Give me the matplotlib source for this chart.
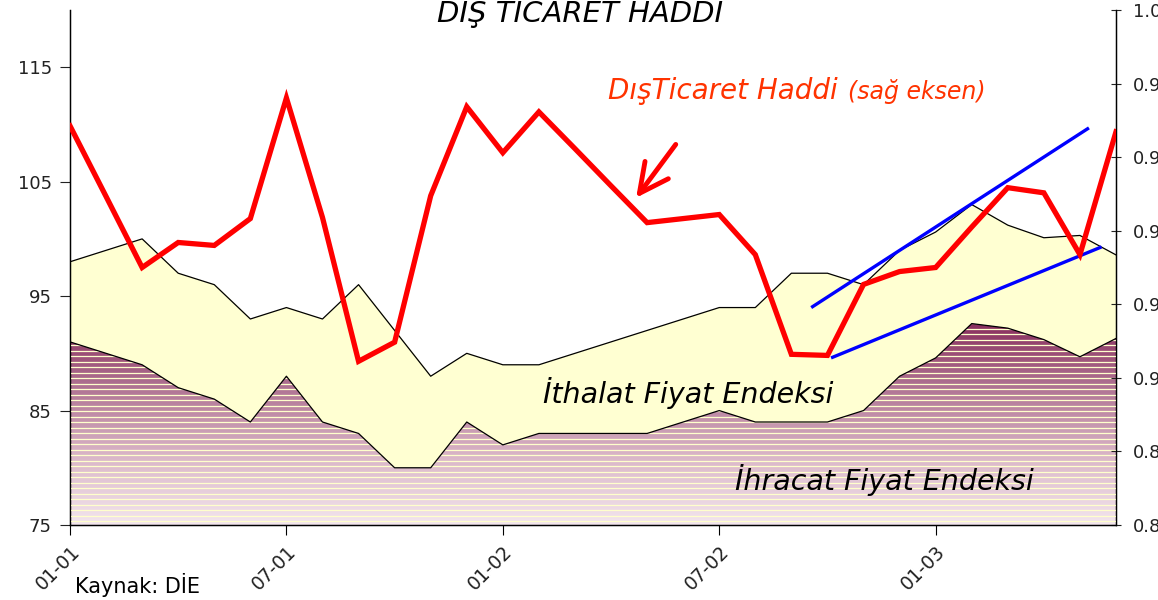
import numpy as np
import matplotlib
matplotlib.use("Agg")
import matplotlib.pyplot as plt
from matplotlib.colors import LinearSegmentedColormap
from matplotlib.patches import Polygon

# monthly data, Jan 2001 .. Jun 2003
import_idx = [98, 99, 100, 97, 96, 93, 94, 93, 96, 92,
              88, 90, 89, 89, 90, 91, 92, 93, 94, 94,
              97, 97, 96, 99, 100.6, 103, 101.2, 100.1, 100.3, 98.6]
export_idx = [91, 90, 89, 87, 86, 84, 88, 84, 83, 80,
              80, 84, 82, 83, 83, 83, 83, 84, 85, 84,
              84, 84, 85, 88, 89.6, 92.6, 92.2, 91.2, 89.7, 91.3]
tot = [0.9685, 0.9493, 0.930, 0.9368, 0.936, 0.9433, 0.9761, 0.9436, 0.9045, 0.9097,
       0.9495, 0.9737, 0.9612, 0.9723, 0.9623, 0.9522, 0.9422, 0.9433, 0.9444, 0.9335,
       0.9064, 0.9061, 0.9254, 0.9289, 0.930, 0.941, 0.9517, 0.9503, 0.9335, 0.9669]

tick_pos = [0, 6, 12, 18, 24]
tick_labels = ['01-01', '07-01', '01-02', '07-02', '01-03']
left_ticks = [75, 85, 95, 105, 115]
right_ticks = [0.86, 0.88, 0.90, 0.92, 0.94, 0.96, 0.98, 1.00]

# hand-drawn trend lines (month index, left axis value)
trend_up = ([20.55, 28.25], [94.0, 109.7])
trend_low = ([21.1, 28.6], [89.6, 99.3])

x = np.arange(len(import_idx))

fig = plt.figure(figsize=(11.58, 6), dpi=100)
ax = fig.add_axes([70/1158, 75/600, (1116-70)/1158, 515/600])

ax.fill_between(x, 75, import_idx, color='#ffffd2', zorder=1)
ax.plot(x, import_idx, color='black', lw=0.9, zorder=4)

# purple gradient with pale stripes
verts = [(0, 75)] + list(zip(x, export_idx)) + [(x[-1], 75)]
clip = Polygon(verts, closed=True, facecolor='none', edgecolor='none', transform=ax.transData)
ax.add_patch(clip)
cmap = LinearSegmentedColormap.from_list('prp', ['#f3e6ee', '#dab6c8', '#b07494', '#862a5a'])
grad = np.linspace(0, 1, 256).reshape(-1, 1)
im = ax.imshow(grad, extent=[0, x[-1], 75, 93], origin='lower', cmap=cmap,
               aspect='auto', zorder=2, interpolation='bicubic')
im.set_clip_path(clip)
stripes = ax.hlines(np.arange(75.35, 93, 0.48), 0, x[-1], color='#ffffcc', lw=0.9, zorder=3)
stripes.set_clip_path(clip)
ax.plot(x, export_idx, color='black', lw=0.9, zorder=4)

ax.plot(*trend_up, color='#0000ff', lw=2.4, zorder=5, solid_capstyle='butt')
ax.plot(*trend_low, color='#0000ff', lw=2.4, zorder=5, solid_capstyle='butt')

ax.set_xlim(0, x[-1])
ax.set_ylim(75, 120)
ax.set_xticks(tick_pos)
ax.set_xticklabels(tick_labels, rotation=45, ha='right', rotation_mode='anchor',
                   fontsize=13.5, family='DejaVu Sans', color='#222222')
ax.set_yticks(left_ticks)
ax.tick_params(axis='y', labelsize=13, length=7, pad=6, colors='#222222')
ax.tick_params(axis='x', length=7, pad=5)
ax.spines['top'].set_visible(False)
for s in ['left', 'bottom', 'right']:
    ax.spines[s].set_linewidth(1.0)
for lab in ax.get_yticklabels():
    lab.set_family('DejaVu Sans')

ax2 = ax.twinx()
ax2.plot(x, tot, color='#ff0000', lw=3.8, zorder=6, solid_joinstyle='miter')
ax2.set_ylim(0.86, 1.00)
ax2.set_yticks(right_ticks)
ax2.set_yticklabels([f'{t:.2f}' for t in right_ticks])
ax2.tick_params(axis='y', labelsize=13, length=7, direction='inout', pad=9, colors='#222222')
for lab in ax2.get_yticklabels():
    lab.set_family('DejaVu Sans')
ax2.spines['top'].set_visible(False)

# arrow pointing at the red line
ax.annotate('', xy=(15.65, 103.4), xytext=(16.84, 108.45),
            arrowprops=dict(arrowstyle='->, head_length=1.1, head_width=0.55',
                            color='#ff0000', lw=3.5, mutation_scale=19), zorder=7)

fig.text(580/1158, 1 - 12/600, 'DIŞ TİCARET HADDİ', ha='center', va='center',
         fontsize=21, style='italic', family='DejaVu Sans', color='black')
fig.text(608/1158, 1 - 99/600, 'DışTicaret Haddi', ha='left', va='baseline',
         fontsize=20, style='italic', family='DejaVu Sans', color='#ff3300')
fig.text(848/1158, 1 - 99/600, '(sağ eksen)', ha='left', va='baseline',
         fontsize=17, style='italic', family='DejaVu Sans', color='#ff3300')
fig.text(543/1158, 1 - 403/600, 'İthalat Fiyat Endeksi', ha='left', va='baseline',
         fontsize=20.5, style='italic', family='DejaVu Sans', color='black')
fig.text(735/1158, 1 - 490/600, 'İhracat Fiyat Endeksi', ha='left', va='baseline',
         fontsize=20.5, style='italic', family='DejaVu Sans', color='black')
fig.text(75/1158, 1 - 593/600, 'Kaynak: DİE', ha='left', va='baseline',
         fontsize=15, family='DejaVu Sans', color='black')

fig.savefig('out.png', dpi=100)
